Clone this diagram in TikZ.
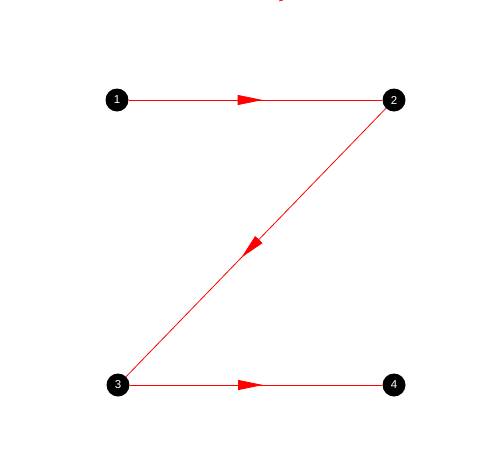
\documentclass[tikz,border=0pt]{standalone}
\usepackage{fontspec}
\setmainfont{Liberation Sans}
\usetikzlibrary{arrows.meta,decorations.markings}
\begin{document}
\begin{tikzpicture}[x=1pt,y=-1pt,
  vert/.style={circle,fill=black,minimum size=23pt,inner sep=0pt,text=white,font=\fontsize{11.5}{12}\selectfont},
  edge/.style={red,line width=0.8pt,postaction={decorate},
    decoration={markings,mark=at position #1 with {\arrow{Triangle[length=25pt,width=10pt]}}}}]
\useasboundingbox[fill=white] (0,0) rectangle (501,472);
\node[vert] (n1) at (117,100) {1};
\node[vert] (n2) at (394,100) {2};
\node[vert] (n3) at (118,385) {3};
\node[vert] (n4) at (394,385) {4};
\draw[edge=0.528] (n1) -- (n2);
\draw[edge=0.556] (n2) -- (n3);
\draw[edge=0.528] (n3) -- (n4);
\coordinate (t1) at (279,1);
\coordinate (t2) at (283,0);
\draw[red,line width=0.8pt] (t1) -- (t2);
\end{tikzpicture}
\end{document}
